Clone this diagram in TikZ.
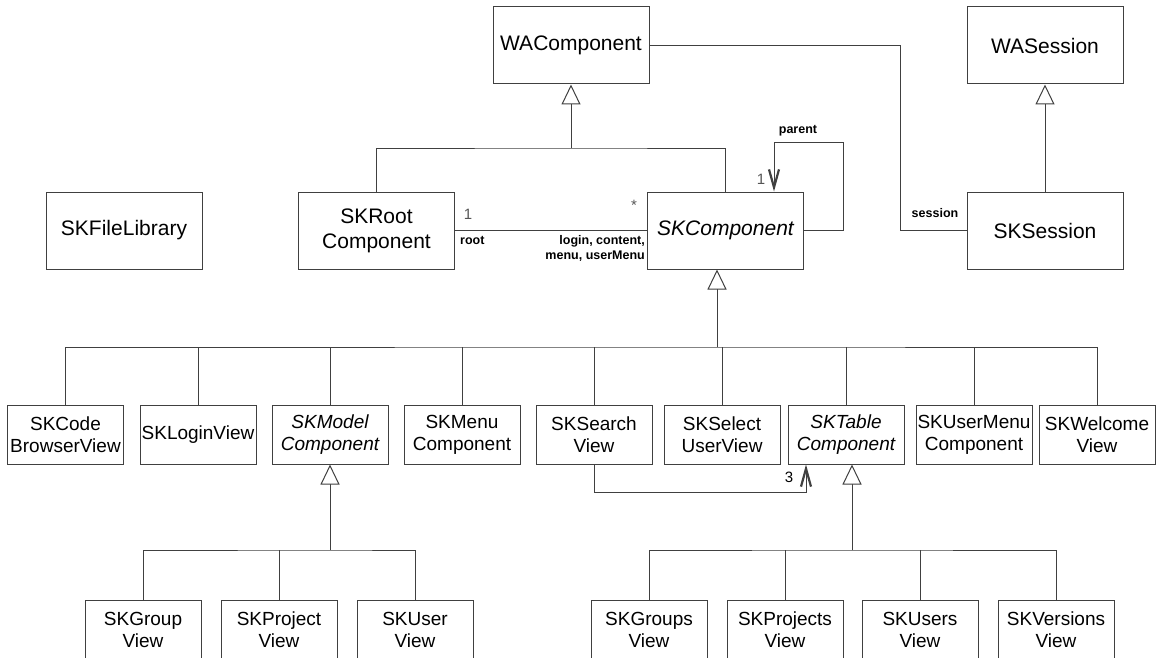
\documentclass[tikz,border=0pt]{standalone}
\usepackage{fontspec}
\setmainfont{Liberation Sans}
\usetikzlibrary{arrows.meta}
\definecolor{ln}{HTML}{404040}
\definecolor{lbl}{HTML}{555555}
\begin{document}
\begin{tikzpicture}[x=1pt,y=-1pt,
  big/.style={draw=ln,line width=1pt,minimum width=156,minimum height=77,inner sep=0,align=center,font=\fontsize{21}{25}\selectfont},
  bigit/.style={big,font=\fontsize{21}{25}\selectfont\itshape},
  small/.style={draw=ln,line width=1pt,minimum width=116,minimum height=59,inner sep=0,align=center,font=\fontsize{19}{22}\selectfont},
  smallit/.style={small,font=\fontsize{19}{22}\selectfont\itshape},
  low/.style={small,minimum height=60},
  conn/.style={draw=ln,line width=1pt},
  gen/.style={conn,-{Triangle[length=20pt,width=19pt,fill=white]}},
  nav/.style={conn,-{Straight Barb[length=18pt,width=10pt,line width=2.2pt]}},
  role/.style={font=\fontsize{12.5}{14}\selectfont\bfseries,inner sep=0},
  mult/.style={font=\fontsize{15}{17}\selectfont,text=lbl,inner sep=0},
]
\useasboundingbox (0,0) rectangle (1156,658);
\clip (0,0) rectangle (1156,658);

% top level
\node[big] (wac) at (571,45.5) {WAComponent};
\node[big] (was) at (1045,45.5) {WASession};
\node[big] (skfl) at (124,230.5) {SKFileLibrary};
\node[big] (skr) at (376.5,230.5) {SKRoot\\Component};
\node[bigit] (skc) at (725.5,230.5) {SKComponent};
\node[big] (sks) at (1045,230.5) {SKSession};

% row 2
\node[small] (c1) at (65.5,434.5) {SKCode\\BrowserView};
\node[small] (c2) at (198,434.5) {SKLoginView};
\node[smallit] (c3) at (330,434.5) {SKModel\\Component};
\node[small] (c4) at (462,434.5) {SKMenu\\Component};
\node[small] (c5) at (594,434.5) {SKSearch\\View};
\node[small] (c6) at (722,434.5) {SKSelect\\UserView};
\node[smallit] (c7) at (846,434.5) {SKTable\\Component};
\node[small] (c8) at (974,434.5) {SKUserMenu\\Component};
\node[small] (c9) at (1097,434.5) {SKWelcome\\View};

% row 3
\node[low] (g1) at (143,630) {SKGroup\\View};
\node[low] (g2) at (279,630) {SKProject\\View};
\node[low] (g3) at (415,630) {SKUser\\View};
\node[low] (t1) at (649,630) {SKGroups\\View};
\node[low] (t2) at (785,630) {SKProjects\\View};
\node[low] (t3) at (920,630) {SKUsers\\View};
\node[low] (t4) at (1056,630) {SKVersions\\View};

% generalization to WAComponent
\coordinate (j1) at (571,148);
\draw[conn] (skr.north) |- (j1) -| (skc.north);
\draw[gen] (j1) -- (wac.south);

% session association
\coordinate (s1) at (900,230.5);
\draw[conn] (wac.east) -| (s1) -- (sks.west);
\node[role] at (935,213) {session};

% WASession generalization
\draw[gen] (sks.north) -- (was.south);

% root association
\draw[conn] (skr.east) -- (skc.west);
\node[mult] at (468,214) {1};
\node[role,anchor=base west] at (460,244) {root};
\node[mult] at (634,205) {*};
\node[role,anchor=base east] at (645,244) {login, content,};
\node[role,anchor=base east] at (645,259) {menu, userMenu};

% self loop
\coordinate (p1) at (843,143);
\coordinate (p2) at (774,143);
\draw[nav] (skc.east) -| (p1) -- (p2) -- (p2 |- skc.north);
\node[role] at (798,131) {parent};
\node[mult] at (761,179) {1};

% SKComponent subclasses
\coordinate (b1) at (717,347);
\draw[gen] (b1) -- (b1 |- skc.south);
\draw[conn] (c1.north) |- (b1) -| (c9.north);
\foreach \n in {c2,c3,c4,c5,c6,c7,c8} \draw[conn] (\n.north) -- (\n.north |- b1);

% SKModelComponent subclasses
\coordinate (b2) at (330,550);
\draw[gen] (b2) -- (c3.south);
\draw[conn] (g1.north) |- (b2) -| (g3.north);
\draw[conn] (g2.north) -- (g2.north |- b2);

% SKTableComponent subclasses
\coordinate (b3) at (852,550);
\draw[gen] (b3) -- (b3 |- c7.south);
\draw[conn] (t1.north) |- (b3) -| (t4.north);
\foreach \n in {t2,t3} \draw[conn] (\n.north) -- (\n.north |- b3);

% search -> table association
\coordinate (a1) at (806,492);
\draw[nav] (c5.south) |- (a1) -- (a1 |- c7.south);
\node[mult,text=black] at (789,477) {3};
\end{tikzpicture}
\end{document}
